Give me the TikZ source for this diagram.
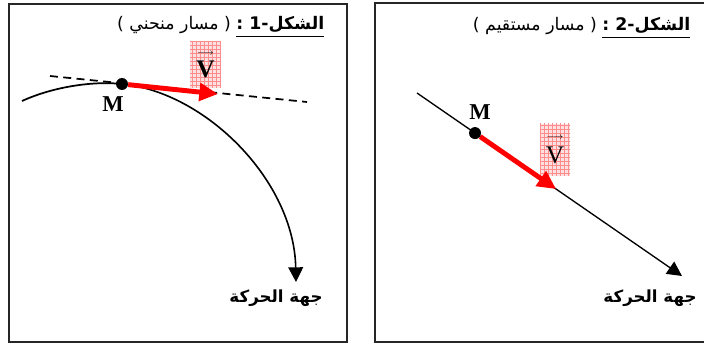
\documentclass[tikz,border=0pt]{standalone}
\usepackage{fontspec}
\setmainfont{Liberation Serif}
\newfontfamily\arabicfont[Script=Arabic]{DejaVu Sans}
\TeXXeTstate=1
\usetikzlibrary{arrows.meta, patterns, calc}

\newcommand{\ulbold}[1]{\setbox0\hbox{\bfseries\beginR #1\endR}\vtop{\copy0\kern2pt\hrule height 1.2pt}}

\begin{document}
\begin{tikzpicture}[
  x=0.75pt, y=-0.75pt,
  panel/.style={draw=black!85, line width=1.5pt},
  track/.style={line width=1.3pt},
  motion/.style={line width=1.2pt, -{Triangle[length=11pt, width=11pt]}},
  speed/.style={red, line width=3.7pt, -{Triangle[length=14pt, width=13pt]}},
  tangent/.style={line width=1.3pt, dash pattern=on 6pt off 4pt},
  dot/.style={circle, fill=black, inner sep=0pt, minimum size=9pt},
  vbox/.style={rectangle, inner sep=0pt, align=center, preaction={fill=red!12}, pattern=grid, pattern color=red!45},
  ptname/.style={font=\bfseries\fontsize{17}{17}\selectfont},
  heading/.style={anchor=east, font=\arabicfont\fontsize{13}{15}\selectfont},
  dirtext/.style={font=\arabicfont\bfseries\fontsize{12.5}{14}\selectfont}
]
  \path[use as bounding box, clip] (0,0) rectangle (704,349);

  % curved path
  \draw[panel] (9,4) rectangle (347,342);
  \node[heading] (title1) at (329,27) {\beginR\ulbold{الشكل-1 :} ( مسار منحني )\endR};
  \coordinate (t1) at (50,76);
  \coordinate (t2) at (307,102);
  \coordinate (c0) at (22,101);
  \coordinate (e1) at (296,282);
  \coordinate (tip1) at (218,94);
  \node[vbox, minimum width=23pt, minimum height=35pt] (v1) at (205.5,64.5)
    {\scriptsize$\longrightarrow$\\[3pt]{\bfseries\fontsize{19}{19}\selectfont V}};
  \draw[tangent] (t1) -- (t2);
  \node[dot] (m1) at (122,84) {};
  \draw[track] (c0) .. controls (55,86) and (95,81) .. (m1.center);
  \draw[motion] (m1.center) .. controls (205,92) and (294,180) .. (e1);
  \draw[speed] (m1) -- (tip1);
  \node[ptname] (name1) at (113,104) {M};
  \node[dirtext] (dir1) at (276,298) {\beginR جهة الحركة\endR};

  % straight path
  \draw[panel] (375,3) rectangle (712,342);
  \node[heading] (title2) at (695,28) {\beginR\ulbold{الشكل-2 :} ( مسار مستقيم )\endR};
  \coordinate (l0) at (417,93);
  \coordinate (l1) at (682,276);
  \coordinate (tip2) at ($(l0)!0.525!(l1)$);
  \node[vbox, minimum width=22.5pt, minimum height=39pt] (v2) at (555,150)
    {\scriptsize$\longrightarrow$\\[5pt]{\fontsize{19}{19}\selectfont V}};
  \draw[motion, line width=1pt] (l0) -- (l1);
  \node[dot] (m2) at ($(l0)!0.219!(l1)$) {};
  \draw[speed] (m2) -- (tip2);
  \node[ptname] (name2) at (480,112) {M};
  \node[dirtext] (dir2) at (650,298) {\beginR جهة الحركة\endR};
\end{tikzpicture}
\end{document}
